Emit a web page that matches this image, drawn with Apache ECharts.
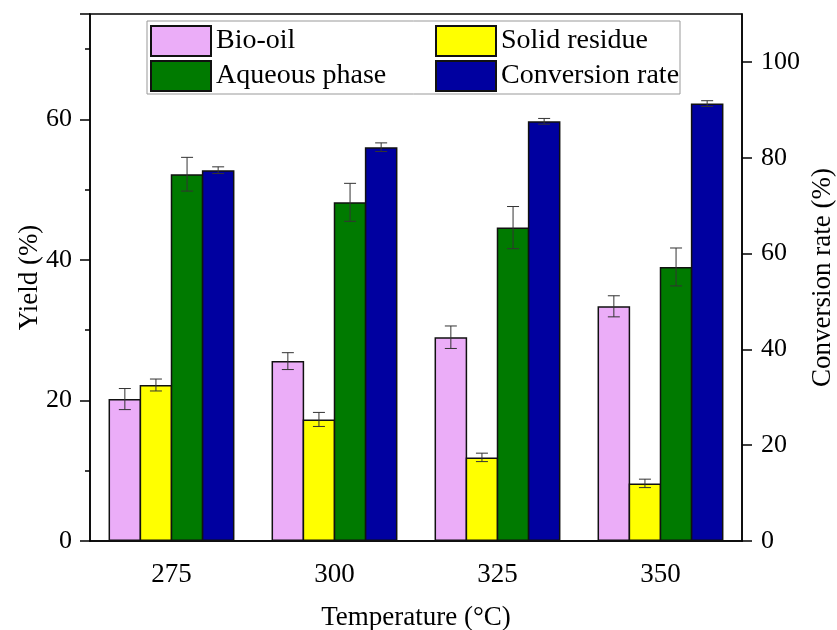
<!DOCTYPE html>
<html>
<head>
<meta charset="utf-8">
<script src="https://cdn.jsdelivr.net/npm/echarts@6/dist/echarts.min.js"></script>
<style>
html, body { margin: 0; padding: 0; background: #fff; }
#chartDom { width: 837px; height: 630px; }
</style>
</head>
<body>
<div id="chartDom"></div>
<script>
// temperatures (°C)
const categories = ['275', '300', '325', '350'];
// yields (%) with error
const bioOil = [20.2, 25.6, 29.0, 33.4];
const bioOilErr = [1.5, 1.2, 1.6, 1.5];
const solidResidue = [22.2, 17.3, 11.9, 8.2];
const solidResidueErr = [0.85, 1.0, 0.6, 0.6];
const aqueousPhase = [52.2, 48.2, 44.6, 39.0];
const aqueousPhaseErr = [2.4, 2.7, 3.0, 2.7];
// conversion rate (%) on right axis
const conversionRate = [77.4, 82.2, 87.6, 91.3];
const conversionRateErr = [0.7, 0.9, 0.6, 0.6];

const leftTicks = { min: 0, max: 75, interval: 20 };
const rightTicks = { min: 0, max: 110, interval: 20 };

const FONT = '"Liberation Serif", "Times New Roman", serif';
const BAR_W = 0.2;      // fraction of band
const BAR_GAP = -0.046; // neighbouring bars share the border line
const chart = echarts.init(document.getElementById('chartDom'));

function errData (vals, errs) {
  return vals.map((v, i) => [i, v, errs[i]]);
}

// error bar drawn at the position of the idx-th bar in a group of 4
function errRender (idx) {
  return function (params, api) {
    const x = api.value(0);
    const v = api.value(1);
    const e = api.value(2);
    const band = api.size([1, 0])[0];
    const bw = band * BAR_W;
    const gap = bw * BAR_GAP;
    const groupW = 4 * bw + 3 * gap;
    const cx = api.coord([x, 0])[0] - groupW / 2 + idx * (bw + gap) + bw / 2;
    const top = api.coord([x, v + e])[1];
    const bot = api.coord([x, v - e])[1];
    const cap = 6;
    const st = { stroke: '#333', lineWidth: 1 };
    return {
      type: 'group',
      children: [
        { type: 'line', shape: { x1: cx, y1: top, x2: cx, y2: bot }, style: st },
        { type: 'line', shape: { x1: cx - cap, y1: top, x2: cx + cap, y2: top }, style: st },
        { type: 'line', shape: { x1: cx - cap, y1: bot, x2: cx + cap, y2: bot }, style: st }
      ]
    };
  };
}

function barSeries (name, data, color, yIdx) {
  return {
    name: name,
    type: 'bar',
    yAxisIndex: yIdx,
    data: data,
    barWidth: (BAR_W * 100) + '%',
    barGap: (BAR_GAP * 100) + '%',
    itemStyle: { color: color, borderColor: '#111', borderWidth: 1.5 },
    emphasis: { disabled: true },
    z: 2
  };
}

function errSeries (vals, errs, idx, yIdx) {
  return {
    type: 'custom',
    name: 'err' + idx,
    yAxisIndex: yIdx,
    renderItem: errRender(idx),
    data: errData(vals, errs),
    encode: { x: 0, y: 1 },
    z: 3,
    silent: true
  };
}

const legendText = { fontFamily: FONT, fontSize: 28, color: '#000', lineHeight: 30 };

const option = {
  animation: false,
  grid: {
    left: 90, right: 95, top: 14, bottom: 89,
    outerBoundsMode: 'none',
    show: true, borderColor: '#000', borderWidth: 1.5
  },
  graphic: [{
    type: 'rect',
    shape: { x: 147, y: 21, width: 533, height: 73 },
    style: { fill: '#fff', stroke: '#999', lineWidth: 1 },
    z: 10
  }],
  legend: [
    {
      data: ['Bio-oil', 'Aqueous phase'],
      orient: 'vertical', left: 150, top: 25, padding: 0,
      icon: 'rect',
      itemWidth: 60, itemHeight: 30, itemGap: 3,
      textStyle: legendText, zlevel: 1
    },
    {
      data: ['Solid residue', 'Conversion rate'],
      orient: 'vertical', left: 435, top: 25, padding: 0,
      icon: 'rect',
      itemWidth: 60, itemHeight: 30, itemGap: 3,
      textStyle: legendText, zlevel: 1
    }
  ],
  xAxis: [
    {
      type: 'category',
      data: categories,
      position: 'bottom',
      name: 'Temperature (°C)',
      nameLocation: 'middle',
      nameGap: 63,
      nameTextStyle: { fontFamily: FONT, fontSize: 27, color: '#000' },
      axisLine: { lineStyle: { color: '#000', width: 1.5 } },
      axisTick: { alignWithLabel: true, length: 8, lineStyle: { color: '#000', width: 1.5 } },
      axisLabel: { fontFamily: FONT, fontSize: 27, color: '#000', margin: 20 },
      splitLine: { show: false }
    },
    {
      type: 'category',
      data: categories,
      position: 'bottom',
      axisLine: { show: false },
      axisTick: { alignWithLabel: false, length: 5, lineStyle: { color: '#000', width: 1.5 } },
      axisLabel: { show: false },
      splitLine: { show: false }
    }
  ],
  yAxis: [
    {
      type: 'value',
      min: leftTicks.min, max: leftTicks.max, interval: leftTicks.interval,
      name: 'Yield (%)',
      nameLocation: 'middle',
      nameGap: 47,
      nameMoveOverlap: false,
      nameTextStyle: { fontFamily: FONT, fontSize: 27, color: '#000' },
      axisLine: { show: true, lineStyle: { color: '#000', width: 1.5 } },
      axisTick: { show: true, length: 10, lineStyle: { color: '#000', width: 1.5 } },
      minorTick: { show: true, splitNumber: 2, length: 5, lineStyle: { color: '#000', width: 1.5 } },
      axisLabel: { fontFamily: FONT, fontSize: 26, color: '#000', margin: 18, showMaxLabel: false },
      splitLine: { show: false }
    },
    {
      type: 'value',
      min: rightTicks.min, max: rightTicks.max, interval: rightTicks.interval,
      name: 'Conversion rate (%)',
      nameLocation: 'middle',
      nameGap: 67,
      nameMoveOverlap: false,
      nameTextStyle: { fontFamily: FONT, fontSize: 27, color: '#000' },
      axisLine: { show: true, lineStyle: { color: '#000', width: 1.5 } },
      axisTick: { show: true, length: 10, lineStyle: { color: '#000', width: 1.5 } },
      axisLabel: { fontFamily: FONT, fontSize: 26, color: '#000', margin: 19, showMaxLabel: false },
      splitLine: { show: false }
    }
  ],
  series: [
    barSeries('Bio-oil', bioOil, '#EBADF8', 0),
    barSeries('Solid residue', solidResidue, '#FFFF00', 0),
    barSeries('Aqueous phase', aqueousPhase, '#007A00', 0),
    barSeries('Conversion rate', conversionRate, '#0000A0', 1),
    errSeries(bioOil, bioOilErr, 0, 0),
    errSeries(solidResidue, solidResidueErr, 1, 0),
    errSeries(aqueousPhase, aqueousPhaseErr, 2, 0),
    errSeries(conversionRate, conversionRateErr, 3, 1)
  ]
};

chart.setOption(option);
</script>
</body>
</html>
